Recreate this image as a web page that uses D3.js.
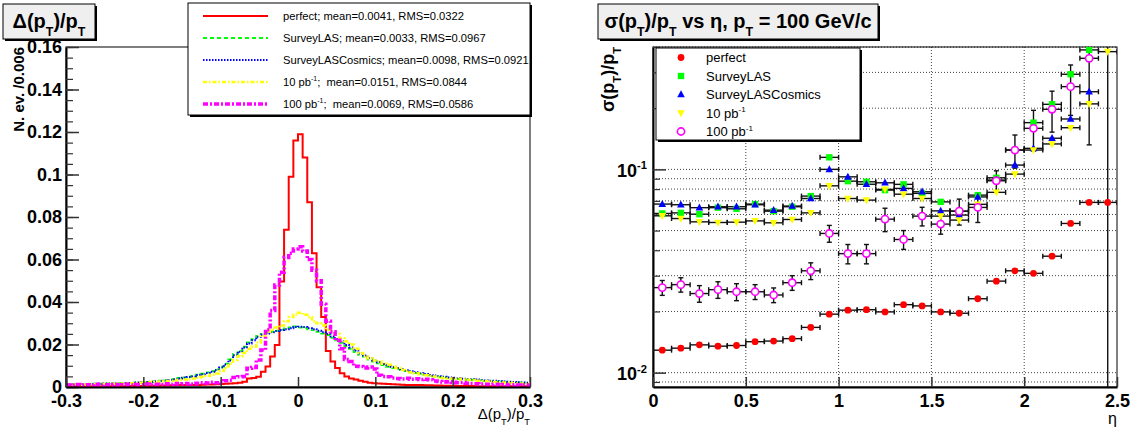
<!DOCTYPE html>
<html><head><meta charset="utf-8">
<script src="https://cdn.jsdelivr.net/npm/d3@7"></script>
<style>body{margin:0;background:#fff;} svg{display:block;font-family:"Liberation Sans",Arial,Helvetica,sans-serif;} text{white-space:pre;}</style>
</head><body><svg id="c" width="1135" height="430"></svg>
<script>
// ---------------- DATA ----------------
// Left: normalized histograms of Delta(pT)/pT, 100 bins of 0.006 from -0.3 to 0.3
const histRange = [-0.3, 0.3];
const histBins = 100;
const perfectHist = [
0.0004,0.0004,0.0004,0.0004,0.0004,0.0004,0.0004,0.0004,0.0004,0.0004,
0.0004,0.0004,0.0004,0.0005,0.0005,0.0005,0.0005,0.0006,0.0006,0.0006,
0.0007,0.0007,0.0008,0.0008,0.0009,0.0009,0.0010,0.0010,0.0010,0.0011,
0.0012,0.0012,0.0013,0.0014,0.0015,0.0016,0.0018,0.0020,0.0025,0.0040,
0.0042,0.0048,0.0072,0.0096,0.0143,0.0198,0.0496,0.0740,0.0990,0.1160,
0.1190,0.1080,0.0870,0.0630,0.0470,0.0330,0.0170,0.0120,0.0090,0.0065,
0.0050,0.0040,0.0035,0.0030,0.0025,0.0020,0.0018,0.0016,0.0015,0.0014,
0.0013,0.0012,0.0011,0.0010,0.0010,0.0009,0.0009,0.0008,0.0008,0.0007,
0.0007,0.0006,0.0006,0.0006,0.0005,0.0005,0.0005,0.0005,0.0004,0.0004,
0.0004,0.0004,0.0004,0.0004,0.0004,0.0004,0.0004,0.0004,0.0004,0.0004];
const surveyLASHist = [
0.0012,0.0013,0.0012,0.0014,0.0013,0.0015,0.0014,0.0015,0.0016,0.0015,
0.0017,0.0018,0.0019,0.0018,0.0020,0.0021,0.0022,0.0024,0.0025,0.0027,
0.0029,0.0032,0.0035,0.0037,0.0042,0.0045,0.0048,0.0052,0.0058,0.0062,
0.0068,0.0074,0.0082,0.0095,0.0110,0.0130,0.0155,0.0170,0.0190,0.0210,
0.0225,0.0240,0.0250,0.0255,0.0260,0.0265,0.0270,0.0275,0.0280,0.0285,
0.0280,0.0278,0.0272,0.0268,0.0260,0.0252,0.0245,0.0232,0.0220,0.0208,
0.0192,0.0180,0.0165,0.0152,0.0143,0.0130,0.0120,0.0112,0.0104,0.0095,
0.0090,0.0085,0.0080,0.0075,0.0070,0.0066,0.0062,0.0058,0.0055,0.0051,
0.0048,0.0046,0.0043,0.0040,0.0038,0.0037,0.0035,0.0034,0.0033,0.0032,
0.0029,0.0028,0.0027,0.0026,0.0025,0.0023,0.0022,0.0021,0.0020,0.0019];
const surveyLASCosmicsHist = [
0.0011,0.0012,0.0013,0.0012,0.0014,0.0013,0.0015,0.0014,0.0016,0.0016,
0.0016,0.0017,0.0018,0.0019,0.0019,0.0021,0.0022,0.0023,0.0025,0.0026,
0.0028,0.0030,0.0033,0.0036,0.0040,0.0043,0.0047,0.0050,0.0056,0.0060,
0.0066,0.0072,0.0080,0.0092,0.0106,0.0125,0.0150,0.0166,0.0186,0.0205,
0.0220,0.0236,0.0246,0.0252,0.0258,0.0263,0.0268,0.0272,0.0277,0.0282,
0.0284,0.0282,0.0276,0.0272,0.0265,0.0258,0.0250,0.0238,0.0226,0.0214,
0.0198,0.0186,0.0172,0.0158,0.0148,0.0136,0.0125,0.0117,0.0108,0.0100,
0.0094,0.0089,0.0084,0.0079,0.0074,0.0069,0.0065,0.0061,0.0057,0.0054,
0.0051,0.0048,0.0045,0.0043,0.0041,0.0039,0.0037,0.0036,0.0035,0.0033,
0.0031,0.0030,0.0029,0.0027,0.0026,0.0025,0.0024,0.0022,0.0021,0.0020];
const lumi10Hist = [
0.0010,0.0011,0.0012,0.0011,0.0012,0.0013,0.0012,0.0013,0.0014,0.0015,
0.0015,0.0016,0.0017,0.0018,0.0018,0.0019,0.0020,0.0021,0.0023,0.0024,
0.0026,0.0027,0.0029,0.0031,0.0033,0.0035,0.0037,0.0040,0.0044,0.0048,
0.0052,0.0058,0.0064,0.0075,0.0090,0.0110,0.0127,0.0145,0.0160,0.0180,
0.0190,0.0210,0.0240,0.0260,0.0270,0.0280,0.0290,0.0310,0.0330,0.0340,
0.0350,0.0340,0.0330,0.0310,0.0300,0.0290,0.0270,0.0260,0.0250,0.0230,
0.0215,0.0200,0.0180,0.0160,0.0145,0.0135,0.0125,0.0120,0.0110,0.0105,
0.0096,0.0090,0.0080,0.0075,0.0070,0.0065,0.0060,0.0055,0.0052,0.0050,
0.0045,0.0042,0.0040,0.0040,0.0039,0.0035,0.0034,0.0033,0.0029,0.0028,
0.0027,0.0028,0.0023,0.0022,0.0021,0.0022,0.0018,0.0017,0.0016,0.0017];
const lumi100Hist = [
0.0010,0.0008,0.0012,0.0009,0.0011,0.0010,0.0013,0.0008,0.0011,0.0010,
0.0012,0.0009,0.0011,0.0013,0.0010,0.0012,0.0011,0.0014,0.0010,0.0013,
0.0012,0.0015,0.0013,0.0016,0.0014,0.0015,0.0017,0.0014,0.0018,0.0020,
0.0019,0.0022,0.0020,0.0024,0.0030,0.0032,0.0045,0.0048,0.0050,0.0088,
0.0092,0.0127,0.0174,0.0270,0.0360,0.0480,0.0540,0.0610,0.0630,0.0650,
0.0660,0.0640,0.0600,0.0550,0.0500,0.0390,0.0310,0.0260,0.0220,0.0180,
0.0130,0.0120,0.0098,0.0096,0.0090,0.0094,0.0085,0.0055,0.0050,0.0048,
0.0042,0.0040,0.0038,0.0041,0.0036,0.0039,0.0035,0.0037,0.0034,0.0028,
0.0026,0.0024,0.0025,0.0022,0.0020,0.0021,0.0018,0.0016,0.0015,0.0014,
0.0013,0.0012,0.0013,0.0011,0.0012,0.0010,0.0011,0.0010,0.0009,0.0010];
const leftLegendLabels = [
"perfect; mean=0.0041, RMS=0.0322",
"SurveyLAS; mean=0.0033, RMS=0.0967",
"SurveyLASCosmics; mean=0.0098, RMS=0.0921",
"10 pb^{-1};  mean=0.0151, RMS=0.0844",
"100 pb^{-1};  mean=0.0069, RMS=0.0586"];
const leftYTicks = [0, 0.02, 0.04, 0.06, 0.08, 0.1, 0.12, 0.14, 0.16];
const leftXTicks = [-0.3, -0.2, -0.1, 0, 0.1, 0.2, 0.3];

// Right: sigma(pT)/pT vs eta, bins of 0.1
const etaCenters = [0.05,0.15,0.25,0.35,0.45,0.55,0.65,0.75,0.85,0.95,1.05,1.15,1.25,1.35,1.45,1.55,1.65,1.75,1.85,1.95,2.05,2.15,2.25,2.35,2.45];
const etaHalfWidth = 0.05;
const perfectRes = [0.0129,0.0132,0.0137,0.0135,0.0136,0.0142,0.0143,0.0147,0.0167,0.0194,0.0203,0.0204,0.0199,0.0216,0.0213,0.0199,0.0196,0.0231,0.0282,0.0317,0.0308,0.0374,0.0542,0.0688,0.0688];
const perfectErr = [0.0002,0.0002,0.0002,0.0002,0.0002,0.0002,0.0002,0.0002,0.0002,0.0003,0.0003,0.0003,0.0003,0.0003,0.0003,0.0003,0.0003,0.0003,0.0004,0.0004,0.0004,0.0005,0.0007,0.0009,0.0009];
const surveyLASRes = [0.0607,0.0611,0.0602,0.0648,0.0640,0.0675,0.0623,0.0655,0.0739,0.1146,0.0875,0.0869,0.0791,0.0844,0.0762,0.0692,0.0623,0.0747,0.0909,0.1245,0.1698,0.2090,0.2938,0.3870,null];
const surveyLASErr = [0.0008,0.0008,0.0008,0.0009,0.0009,0.0009,0.0009,0.0009,0.0010,0.0016,0.0012,0.0012,0.0011,0.0012,0.0011,0.0010,0.0009,0.0011,0.0014,0.0020,0.0028,0.0035,0.0050,0.0070,null];
const surveyLASCosmicsRes = [0.0675,0.0670,0.0648,0.0655,0.0655,0.0670,0.0630,0.0660,0.0719,0.1000,0.0919,0.0845,0.0859,0.0806,0.0776,0.0625,0.0596,0.0732,0.0886,0.1050,0.1269,0.1423,0.1770,0.2410,null];
const surveyLASCosmicsErr = [0.0009,0.0009,0.0009,0.0009,0.0009,0.0009,0.0009,0.0009,0.0010,0.0014,0.0013,0.0012,0.0012,0.0012,0.0011,0.0009,0.0009,0.0011,0.0014,0.0017,0.0021,0.0024,0.0030,0.0042,null];
const lumi10Res = [0.0591,0.0573,0.0552,0.0548,0.0550,0.0558,0.0546,0.0567,0.0611,0.0830,0.0719,0.0706,0.0797,0.0755,0.0719,0.0589,0.0563,0.0673,0.0771,0.0948,0.1245,0.1334,0.1603,0.2100,0.3795];
const lumi10Err = [0.0008,0.0008,0.0008,0.0008,0.0008,0.0008,0.0008,0.0008,0.0009,0.0012,0.0010,0.0010,0.0011,0.0011,0.0010,0.0009,0.0008,0.0010,0.0012,0.0015,0.0020,0.0022,0.0027,0.0036,0.3760];
const lumi100Res = [0.0262,0.0271,0.0245,0.0256,0.0250,0.0250,0.0241,0.0277,0.0317,0.0484,0.0385,0.0385,0.0569,0.0452,0.0589,0.0538,0.0623,0.0650,0.0879,0.1245,0.1592,0.1975,0.2553,0.3520,null];
const lumi100Err = [0.0022,0.0022,0.0023,0.0024,0.0024,0.0021,0.0020,0.0023,0.0030,0.0046,0.0042,0.0042,0.0075,0.0048,0.0062,0.0058,0.0091,0.0102,0.0105,0.0231,0.0360,0.0450,0.0710,0.2200,null];
const rightLegendLabels = ["perfect", "SurveyLAS", "SurveyLASCosmics", "10 pb^{-1}", "100 pb^{-1}"];
const rightXTicks = [0, 0.5, 1, 1.5, 2, 2.5];
const rightYMajor = [0.01, 0.1];
const rightYMinor = [0.009,0.02,0.03,0.04,0.05,0.06,0.07,0.08,0.09,0.2,0.3,0.4];

// ---------------- HELPERS ----------------
const svg = d3.select('#c');
svg.append('rect').attr('width',1135).attr('height',430).attr('fill','#fff');

function rich(sel, str, size){
  const parts = str.split(/(\^\{[^}]*\}|_\{[^}]*\})/).filter(s=>s.length);
  let shift = 0;
  parts.forEach(p=>{
    let txt=p, fs=size, dy=0;
    if(p.startsWith('^{')){txt=p.slice(2,-1); fs=size*0.62; dy=-size*0.42;}
    else if(p.startsWith('_{')){txt=p.slice(2,-1); fs=size*0.62; dy=size*0.38;}
    sel.append('tspan').attr('font-size',fs).attr('dy',dy-shift).text(txt);
    shift = dy;
  });
  return sel;
}
function pave(x,y,w,h,fill){
  svg.append('rect').attr('x',x+2).attr('y',y+2).attr('width',w).attr('height',h).attr('fill','#000');
  svg.append('rect').attr('x',x).attr('y',y).attr('width',w).attr('height',h).attr('fill',fill).attr('stroke','#000').attr('stroke-width',1);
}

const colors = ['#ff0000','#00ff00','#0000ff','#ffff00','#ff00ff'];

// ---------------- LEFT PANEL ----------------
const L = {x0:66, x1:530, y0:47, y1:387};
const xL = d3.scaleLinear().domain(histRange).range([L.x0, L.x1]);
const yL = d3.scaleLinear().domain([0, 0.16]).range([L.y1, L.y0]);
svg.append('clipPath').attr('id','clipL').append('rect').attr('x',L.x0).attr('y',L.y0).attr('width',L.x1-L.x0).attr('height',L.y1-L.y0);

svg.append('rect').attr('x',L.x0).attr('y',L.y0).attr('width',L.x1-L.x0).attr('height',L.y1-L.y0).attr('fill','none').attr('stroke','#000').attr('stroke-width',1);

const binW = (histRange[1]-histRange[0])/histBins;
function histPts(vals){
  const pts = vals.map((v,i)=>[histRange[0]+i*binW, v]);
  pts.push([histRange[1], vals[vals.length-1]]);
  return pts;
}
const stepLine = d3.line().x(d=>xL(d[0])).y(d=>yL(d[1])).curve(d3.curveStepAfter);
const histStyles = [
  {w:2, dash:null},
  {w:2, dash:'4,3'},
  {w:2, dash:'1.5,1.5'},
  {w:2.5, dash:'4,2,1.5,2'},
  {w:3.5, dash:'5,2,2,2'}
];
const hists = [perfectHist, surveyLASHist, surveyLASCosmicsHist, lumi10Hist, lumi100Hist];
const gH = svg.append('g').attr('clip-path','url(#clipL)');
hists.forEach((h,i)=>{
  gH.append('path').attr('d', stepLine(histPts(h))).attr('fill','none')
    .attr('stroke', colors[i]).attr('stroke-width', histStyles[i].w)
    .attr('stroke-dasharray', histStyles[i].dash);
});

const tickFmt = d => (+d.toFixed(2)).toString();
const gyL = svg.append('g').attr('transform',`translate(${L.x0},0)`)
  .call(d3.axisLeft(yL).tickValues(leftYTicks).tickSizeInner(-13).tickSizeOuter(0).tickPadding(4).tickFormat(tickFmt));
svg.append('g').attr('class','minor').attr('transform',`translate(${L.x0},0)`)
  .call(d3.axisLeft(yL).tickValues(d3.range(0,0.1601,0.005)).tickSize(-7).tickFormat(''));
const gxL = svg.append('g').attr('transform',`translate(0,${L.y1})`)
  .call(d3.axisBottom(xL).tickValues(leftXTicks).tickSizeInner(-10).tickSizeOuter(0).tickPadding(4).tickFormat(tickFmt));

// ---------------- RIGHT PANEL ----------------
const R = {x0:653, x1:1117, y0:47, y1:387};
const xR = d3.scaleLinear().domain([0, 2.5]).range([R.x0, R.x1]);
const yR = d3.scaleLog().domain([0.0085, 0.40]).range([R.y1, R.y0]);
svg.append('clipPath').attr('id','clipR').append('rect').attr('x',R.x0).attr('y',R.y0).attr('width',R.x1-R.x0).attr('height',R.y1-R.y0);

const gGrid = svg.append('g');
rightYMajor.concat(rightYMinor).forEach(v=>{
  gGrid.append('line').attr('x1',R.x0).attr('x2',R.x1).attr('y1',yR(v)).attr('y2',yR(v))
    .attr('stroke','#444').attr('stroke-width',1).attr('stroke-dasharray','1,2');
});
[0.5,1,1.5,2].forEach(v=>{
  gGrid.append('line').attr('x1',xR(v)).attr('x2',xR(v)).attr('y1',R.y0).attr('y2',R.y1)
    .attr('stroke','#444').attr('stroke-width',1).attr('stroke-dasharray','1,2');
});
svg.append('rect').attr('x',R.x0).attr('y',R.y0).attr('width',R.x1-R.x0).attr('height',R.y1-R.y0).attr('fill','none').attr('stroke','#000').attr('stroke-width',1);

const gyR = svg.append('g').attr('transform',`translate(${R.x0},0)`)
  .call(d3.axisLeft(yR).tickValues(rightYMajor).tickSizeInner(-13).tickSizeOuter(0).tickPadding(6).tickFormat(''));
svg.append('g').attr('class','minor').attr('transform',`translate(${R.x0},0)`)
  .call(d3.axisLeft(yR).tickValues(rightYMinor).tickSize(-7).tickFormat(''));
const gxR = svg.append('g').attr('transform',`translate(0,${R.y1})`)
  .call(d3.axisBottom(xR).tickValues(rightXTicks).tickSizeInner(-10).tickSizeOuter(0).tickPadding(4).tickFormat(d=>d.toString()));

gyR.selectAll('.tick').each(function(d){
  const t = d3.select(this).append('text').attr('x',-6).attr('y',7).attr('text-anchor','end')
    .attr('fill','#000').attr('font-weight','bold').attr('font-size',18);
  rich(t, '10^{' + Math.round(Math.log10(d)) + '}', 18);
});

[gyL,gxL,gyR,gxR].forEach(g=>{
  g.selectAll('.domain').attr('stroke','#000').attr('stroke-width',2);
  g.selectAll('.tick line').attr('stroke','#333').attr('stroke-width',1.5);
  g.selectAll('.tick text').attr('font-size',18).attr('font-weight','bold').attr('fill','#000')
    .attr('font-family','"Liberation Sans",Arial,sans-serif');
});
gxL.selectAll('.tick text').attr('dy','0.9em');
gxR.selectAll('.tick text').attr('dy','0.9em');
svg.selectAll('.minor .domain').attr('stroke','none');
svg.selectAll('.minor .tick line').attr('stroke','#333').attr('stroke-width',1.2);

// points & error bars
const series = [
  {v:perfectRes, e:perfectErr, shape:'circle'},
  {v:surveyLASRes, e:surveyLASErr, shape:'square'},
  {v:surveyLASCosmicsRes, e:surveyLASCosmicsErr, shape:'tri'},
  {v:lumi10Res, e:lumi10Err, shape:'tridown'},
  {v:lumi100Res, e:lumi100Err, shape:'open'}
];
const gP = svg.append('g').attr('clip-path','url(#clipR)');
function marker(g, shape, x, y, color){
  if(shape==='circle') g.append('circle').attr('cx',x).attr('cy',y).attr('r',3.4).attr('fill',color);
  else if(shape==='square') g.append('rect').attr('x',x-3.2).attr('y',y-3.2).attr('width',6.4).attr('height',6.4).attr('fill',color);
  else if(shape==='tri') g.append('path').attr('d',`M${x},${y-4.2}L${x+3.8},${y+2.8}L${x-3.8},${y+2.8}Z`).attr('fill',color);
  else if(shape==='tridown') g.append('path').attr('d',`M${x},${y+4.2}L${x+3.8},${y-2.8}L${x-3.8},${y-2.8}Z`).attr('fill',color);
  else g.append('circle').attr('cx',x).attr('cy',y).attr('r',3.6).attr('fill','#fff').attr('stroke',color).attr('stroke-width',1.6);
}
series.forEach((s,si)=>{
  etaCenters.forEach((eta,i)=>{
    const v = s.v[i]; if(v==null) return;
    const e = s.e[i];
    const cx = xR(eta), cy = yR(v);
    const xa = xR(eta-etaHalfWidth), xb = xR(eta+etaHalfWidth);
    const g = gP.append('g').attr('stroke','#111').attr('stroke-width',1.4);
    g.append('line').attr('x1',xa).attr('x2',xb).attr('y1',cy).attr('y2',cy);
    g.append('line').attr('x1',xa).attr('x2',xa).attr('y1',cy-2.5).attr('y2',cy+2.5);
    g.append('line').attr('x1',xb).attr('x2',xb).attr('y1',cy-2.5).attr('y2',cy+2.5);
    const lo = Math.max(v-e, 0.001), hi = v+e;
    const ylo = yR(lo), yhi = yR(hi);
    if(ylo-yhi > 9){
      g.append('line').attr('x1',cx).attr('x2',cx).attr('y1',yhi).attr('y2',ylo);
      g.append('line').attr('x1',cx-2.5).attr('x2',cx+2.5).attr('y1',yhi).attr('y2',yhi);
      g.append('line').attr('x1',cx-2.5).attr('x2',cx+2.5).attr('y1',ylo).attr('y2',ylo);
    }
  });
});
series.forEach((s,si)=>{
  etaCenters.forEach((eta,i)=>{
    const v = s.v[i]; if(v==null) return;
    marker(gP, s.shape, xR(eta), yR(v), colors[si]);
  });
});

// ---------------- TEXTS / LEGENDS ----------------
pave(3,4,92,35,'#efefef');
rich(svg.append('text').attr('x',49).attr('y',28).attr('text-anchor','middle').attr('font-weight','bold').attr('font-size',20), 'Δ(p_{T})/p_{T}', 20);
pave(598,4,280,35,'#efefef');
rich(svg.append('text').attr('x',738).attr('y',28).attr('text-anchor','middle').attr('font-weight','bold').attr('font-size',20), 'σ(p_{T})/p_{T} vs η, p_{T} = 100 GeV/c', 20);

svg.append('text').attr('transform','translate(24,47) rotate(-90)').attr('text-anchor','end')
  .attr('font-weight','bold').attr('font-size',15).text('N. ev. /0.006');
rich(svg.append('text').attr('transform','translate(614,47) rotate(-90)').attr('text-anchor','end')
  .attr('font-weight','bold').attr('font-size',18), 'σ(p_{T})/p_{T}', 18);
rich(svg.append('text').attr('x',530).attr('y',419).attr('text-anchor','end').attr('font-size',15), 'Δ(p_{T})/p_{T}', 15);
svg.append('text').attr('x',1117).attr('y',424).attr('text-anchor','end').attr('font-size',16).text('η');

pave(188,3,342,112,'#fff');
leftLegendLabels.forEach((lab,i)=>{
  const y = 16 + i*22;
  svg.append('line').attr('x1',203).attr('x2',268).attr('y1',y).attr('y2',y)
    .attr('stroke',colors[i]).attr('stroke-width',histStyles[i].w).attr('stroke-dasharray',histStyles[i].dash);
  rich(svg.append('text').attr('x',283).attr('y',y+4).attr('font-size',11.2), lab, 11.2);
});

pave(656,48,204,92,'#fff');
rightLegendLabels.forEach((lab,i)=>{
  const y = 57.5 + i*18.5;
  marker(svg, series[i].shape, 681, y, colors[i]);
  rich(svg.append('text').attr('x',706).attr('y',y+4.5).attr('font-size',13), lab, 13);
});
</script>
</body></html>
